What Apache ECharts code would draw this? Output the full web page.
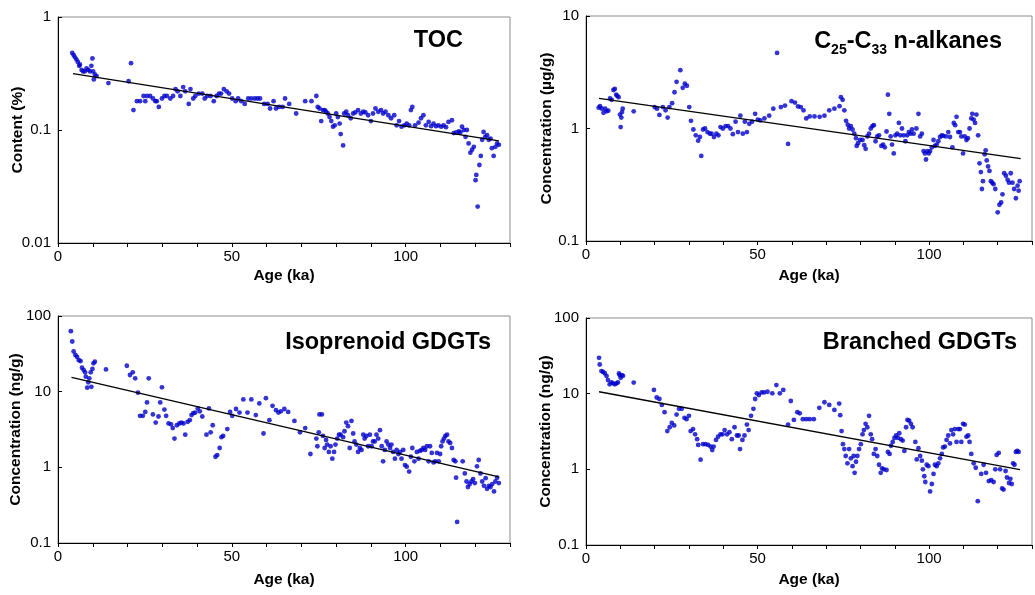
<!DOCTYPE html>
<html>
<head>
<meta charset="utf-8">
<script src="https://cdn.jsdelivr.net/npm/echarts@6/dist/echarts.min.js"></script>
<style>
  html, body { margin: 0; padding: 0; background: #fff; }
  #main { width: 1035px; height: 595px; }
</style>
</head>
<body>
<div id="main"></div>
<script>
// [age (ka), value]
var tocPoints = [[4.1,0.48],[4.5,0.46],[4.9,0.44],[5.3,0.42],[5.7,0.40],[6.1,0.37],[6.3,0.38],[6.8,0.34],[7.2,0.33],[7.7,0.33],[8.2,0.35],[8.7,0.34],[9.2,0.33],[9.6,0.37],[9.9,0.43],[10.1,0.33],[10.3,0.28],[10.6,0.31],[11.1,0.30],[14.5,0.26],[20.3,0.27],[21.0,0.39],[21.7,0.15],[22.7,0.18],[23.6,0.18],[24.6,0.20],[25.1,0.18],[25.6,0.20],[26.5,0.20],[27.3,0.19],[28.0,0.18],[28.4,0.18],[29.0,0.16],[29.9,0.19],[30.6,0.20],[31.3,0.20],[32.3,0.19],[33.1,0.20],[33.8,0.23],[34.4,0.22],[35.2,0.20],[36.0,0.24],[36.6,0.22],[37.6,0.17],[38.1,0.23],[38.9,0.19],[39.5,0.20],[40.5,0.21],[41.5,0.21],[42.2,0.19],[42.9,0.20],[43.9,0.20],[44.8,0.18],[45.6,0.20],[46.3,0.21],[46.9,0.21],[47.7,0.23],[48.5,0.22],[49.2,0.21],[50.1,0.19],[51.1,0.18],[51.8,0.19],[52.7,0.18],[53.7,0.17],[54.7,0.19],[55.6,0.19],[56.6,0.19],[57.4,0.19],[58.1,0.19],[59.3,0.17],[60.3,0.17],[61.0,0.155],[62.0,0.18],[62.7,0.155],[63.6,0.16],[64.6,0.16],[65.3,0.19],[66.5,0.17],[68.5,0.14],[71.1,0.18],[72.9,0.18],[74.3,0.20],[74.7,0.16],[75.2,0.155],[75.7,0.12],[76.2,0.15],[76.7,0.15],[77.1,0.145],[77.6,0.14],[78.1,0.13],[78.6,0.12],[79.1,0.107],[79.6,0.11],[80.0,0.14],[80.5,0.13],[81.0,0.114],[81.3,0.092],[82.0,0.073],[82.3,0.14],[82.9,0.145],[83.4,0.135],[84.2,0.127],[84.9,0.14],[85.5,0.143],[86.3,0.15],[87.1,0.14],[87.8,0.145],[88.4,0.143],[89.2,0.135],[90.0,0.12],[90.6,0.14],[91.3,0.155],[92.1,0.145],[92.9,0.15],[93.5,0.14],[94.2,0.145],[95.0,0.135],[95.8,0.127],[96.7,0.135],[97.4,0.11],[98.1,0.12],[98.8,0.107],[99.6,0.11],[100.3,0.114],[101.0,0.11],[101.5,0.15],[101.9,0.16],[102.7,0.11],[103.7,0.116],[104.4,0.127],[105.1,0.135],[105.8,0.11],[106.6,0.118],[107.3,0.108],[108.0,0.114],[108.7,0.108],[109.4,0.11],[110.2,0.107],[110.9,0.11],[111.6,0.106],[112.3,0.118],[113.3,0.122],[113.8,0.094],[114.5,0.095],[115.3,0.097],[115.7,0.095],[116.2,0.107],[116.7,0.1],[117.2,0.087],[117.6,0.1],[118.1,0.076],[118.6,0.063],[119.1,0.067],[119.6,0.071],[120.1,0.036],[120.3,0.04],[120.7,0.021],[121.2,0.049],[121.6,0.059],[122.0,0.082],[122.4,0.096],[122.9,0.087],[123.4,0.09],[123.9,0.082],[124.4,0.084],[124.8,0.069],[125.3,0.059],[125.8,0.071],[126.3,0.076],[126.8,0.074]];

var alkanePoints = [[3.7,1.53],[4.1,1.58],[4.6,1.5],[5.1,1.38],[5.6,1.5],[6.0,1.42],[6.5,1.44],[7.0,1.85],[7.5,1.8],[8.0,2.2],[8.4,2.25],[8.8,2.0],[9.1,1.95],[9.5,1.9],[9.9,1.33],[10.1,1.03],[10.3,1.25],[10.5,1.4],[10.7,1.5],[13.9,1.42],[20.0,1.55],[20.7,1.5],[21.4,1.32],[22.4,1.55],[23.2,1.45],[23.8,1.25],[24.3,1.55],[25.1,1.68],[25.8,2.1],[26.4,2.6],[27.5,3.3],[28.2,2.3],[28.8,2.5],[29.4,2.4],[30.1,1.55],[30.6,1.17],[31.3,0.98],[32.0,0.87],[32.7,0.78],[33.2,0.84],[33.6,0.57],[34.1,0.98],[34.7,1.0],[35.4,0.93],[36.1,0.9],[36.6,0.9],[37.3,0.84],[38.0,0.9],[38.6,0.87],[39.2,1.03],[39.9,1.0],[40.7,1.05],[41.4,1.05],[42.1,1.0],[42.8,0.89],[43.6,1.15],[44.3,0.93],[45.0,1.3],[45.7,0.9],[46.3,1.15],[46.9,0.93],[47.6,1.1],[48.4,1.15],[49.3,1.35],[50.1,1.2],[50.8,1.18],[52.0,1.23],[53.4,1.3],[54.6,1.5],[55.7,4.7],[56.8,1.55],[58.0,1.6],[58.9,0.73],[59.9,1.75],[60.9,1.7],[61.8,1.57],[62.6,1.55],[63.4,1.45],[64.2,1.23],[65.2,1.28],[66.6,1.28],[68.1,1.27],[69.5,1.3],[70.9,1.45],[72.4,1.5],[73.9,1.58],[74.3,1.9],[74.8,1.8],[75.3,1.45],[75.8,1.17],[76.3,1.08],[76.7,1.0],[77.2,1.05],[77.7,0.98],[78.2,0.9],[78.7,0.82],[78.9,0.7],[79.3,0.74],[79.9,0.79],[80.6,0.79],[81.1,0.71],[81.5,0.66],[82.0,0.85],[82.5,0.9],[83.0,1.0],[83.5,1.05],[83.9,1.07],[84.4,0.77],[84.9,0.85],[85.4,0.87],[86.1,0.7],[86.6,0.72],[87.1,0.68],[87.6,0.94],[88.0,2.0],[88.4,1.35],[88.8,0.85],[89.2,0.72],[89.7,0.6],[90.2,0.87],[90.7,0.9],[91.2,1.12],[91.6,0.87],[92.1,1.0],[92.6,0.87],[93.1,0.77],[93.6,0.87],[94.1,0.93],[94.6,0.9],[95.0,0.98],[95.5,0.9],[96.3,1.0],[96.9,1.35],[97.4,0.85],[97.9,0.9],[98.4,0.63],[98.8,0.6],[99.1,0.53],[99.5,0.63],[99.9,0.6],[100.3,0.63],[100.8,0.68],[101.3,0.79],[101.7,0.7],[102.2,0.72],[102.7,0.77],[103.2,0.84],[103.7,0.87],[104.1,0.86],[104.9,0.85],[105.6,0.93],[106.1,0.84],[106.8,0.68],[107.2,1.12],[107.6,1.07],[108.0,1.27],[108.5,0.93],[109.0,0.93],[109.4,0.85],[109.9,0.6],[110.4,0.85],[110.9,0.79],[111.3,0.82],[111.8,1.0],[112.3,1.23],[112.6,1.35],[113.0,1.2],[113.4,1.12],[113.8,1.33],[114.3,0.87],[114.7,0.49],[115.1,0.41],[115.4,0.29],[115.7,0.34],[116.2,0.59],[116.5,0.64],[116.8,0.52],[117.2,0.46],[117.6,0.42],[118.0,0.34],[118.4,0.33],[118.8,0.32],[119.3,0.29],[120.0,0.18],[120.5,0.21],[121.0,0.22],[121.4,0.26],[121.9,0.4],[122.4,0.38],[122.9,0.35],[123.3,0.33],[123.8,0.4],[124.3,0.33],[124.8,0.29],[125.3,0.24],[125.8,0.31],[126.1,0.28],[126.4,0.34]];

var isoPoints = [[3.7,63],[4.1,46],[4.5,34],[5.0,30.5],[5.5,28.7],[6.0,26],[6.5,25.4],[6.9,20.7],[7.4,19.3],[7.8,18],[8.0,15.8],[8.4,11.3],[8.7,13.3],[9.0,15],[9.4,18],[9.6,11.6],[9.9,20],[10.2,23.7],[10.6,24.9],[13.8,19.7],[19.8,22],[20.7,16.6],[21.5,18],[22.2,15],[23.0,9.7],[23.6,4.8],[24.4,4.8],[25.1,5.4],[25.6,7.2],[26.1,15],[27.3,5.0],[28.1,3.9],[28.9,4.7],[29.4,7.2],[29.9,11.4],[30.6,5.8],[31.1,4.8],[31.8,3.8],[32.5,3.7],[33.0,3.3],[33.5,2.4],[34.2,3.6],[34.9,3.8],[35.5,3.9],[36.1,3.8],[36.6,2.7],[37.3,4.0],[37.9,4.2],[38.4,4.9],[38.9,5.2],[39.5,5.3],[40.2,6.0],[40.8,5.5],[41.5,4.7],[42.7,2.7],[43.4,6.0],[43.9,2.9],[44.5,3.6],[45.3,1.38],[45.8,1.45],[46.5,1.8],[47.0,2.5],[47.5,2.6],[48.7,3.2],[49.5,5.4],[50.1,4.8],[51.2,5.9],[52.2,5.3],[53.3,7.9],[54.5,5.3],[55.6,7.9],[56.9,4.9],[57.9,7.0],[59.1,2.8],[59.8,8.2],[60.8,4.2],[61.7,6.5],[62.7,5.7],[63.4,5.3],[64.1,5.5],[65.1,5.9],[66.2,5.4],[68.0,4.1],[69.6,2.9],[71.1,3.3],[72.6,1.5],[74.3,2.4],[74.6,1.9],[75.0,2.9],[75.2,5.0],[75.9,5.0],[76.2,2.6],[76.7,1.8],[77.1,2.3],[77.4,2.0],[77.9,1.6],[78.4,1.9],[78.9,1.3],[79.4,1.6],[79.8,2.0],[80.3,2.4],[80.8,2.7],[81.3,2.7],[82.0,2.5],[82.4,3.0],[82.9,3.9],[83.4,3.5],[83.9,1.8],[84.4,4.1],[84.9,2.8],[85.3,2.2],[85.8,2.0],[86.3,1.6],[86.8,1.8],[87.3,1.7],[87.8,2.7],[88.2,2.4],[88.7,2.6],[89.2,1.9],[89.7,2.7],[90.2,1.9],[90.6,2.2],[91.1,2.2],[91.6,2.7],[92.1,2.4],[92.6,3.1],[93.1,1.9],[93.5,1.2],[94.0,1.7],[94.5,2.2],[95.0,2.0],[95.5,1.8],[95.9,2.0],[96.4,1.6],[96.9,1.3],[97.4,1.7],[97.9,1.5],[98.4,1.6],[98.8,1.3],[99.3,1.7],[99.8,1.07],[100.3,1.02],[101.0,0.88],[101.5,1.38],[101.9,1.8],[102.5,1.2],[103.2,1.6],[103.7,1.3],[104.1,1.65],[104.6,1.7],[105.1,1.8],[105.6,1.7],[106.1,1.9],[106.6,1.2],[107.0,1.9],[107.5,1.55],[108.0,1.16],[108.5,1.2],[109.0,1.55],[109.5,1.2],[109.9,1.5],[110.2,1.9],[110.6,2.2],[111.0,2.4],[111.4,2.6],[111.9,2.7],[112.3,2.2],[112.8,2.1],[113.3,1.8],[113.8,1.25],[114.3,1.2],[114.5,0.73],[114.8,0.19],[116.4,1.2],[117.0,0.83],[117.5,0.65],[117.9,0.55],[118.4,0.6],[118.9,0.65],[119.4,0.7],[119.9,0.62],[120.5,1.03],[121.0,1.25],[121.5,0.83],[122.0,0.65],[122.5,0.57],[123.0,0.72],[123.4,0.52],[123.9,0.57],[124.4,0.55],[124.9,0.6],[125.4,0.48],[125.8,0.65],[126.3,0.73],[126.8,0.62]];

var brPoints = [[3.8,29.8],[4.0,24.3],[4.5,19.9],[5.0,19.4],[5.5,18.5],[6.0,17.1],[6.4,15.1],[6.9,13.3],[7.4,14.1],[7.9,13.7],[8.4,13.3],[8.9,13.7],[9.3,14.1],[9.6,18.5],[9.8,17.6],[10.1,16.2],[10.4,17.6],[10.8,17.2],[13.9,14],[19.8,11.2],[20.6,8.9],[21.4,8.5],[22.1,7.1],[22.9,5.7],[23.7,3.2],[24.4,3.6],[25.0,4.1],[25.7,3.8],[26.4,5.3],[27.1,6.3],[27.9,6.3],[28.7,4.8],[29.3,4.6],[30.0,5.1],[30.5,3.2],[31.2,3.4],[31.8,2.9],[32.4,2.5],[32.7,2.1],[33.4,1.34],[34.1,2.15],[34.8,2.15],[35.6,2.1],[36.3,2.0],[36.8,1.8],[37.2,2.0],[37.9,2.45],[38.5,2.7],[39.2,2.9],[39.8,2.9],[40.4,3.3],[41.1,2.9],[41.8,3.1],[42.5,2.5],[43.3,3.6],[44.0,2.8],[44.5,2.8],[44.9,1.85],[45.6,2.45],[46.2,2.8],[46.9,3.9],[47.4,3.3],[48.1,5.1],[48.8,6.3],[49.3,8.5],[49.8,10.1],[50.4,9.6],[51.2,10.4],[51.9,10.4],[52.9,10.6],[54.3,10.1],[55.5,13],[56.5,10.1],[57.5,11.2],[58.9,3.9],[59.7,8.0],[60.6,4.5],[61.6,5.7],[62.3,5.5],[63.2,4.6],[64.2,4.6],[65.2,4.6],[66.4,4.6],[68.0,6.5],[69.5,7.7],[70.9,7.1],[72.4,6.1],[73.8,7.4],[74.1,5.2],[74.5,3.2],[74.9,2.15],[75.3,1.85],[75.7,1.5],[76.2,1.2],[76.7,1.85],[77.2,1.4],[77.7,1.1],[78.0,1.5],[78.3,0.9],[78.7,1.26],[79.1,1.5],[79.6,1.85],[80.1,2.15],[80.6,2.9],[81.0,3.3],[81.5,4.0],[82.0,3.6],[82.5,5.1],[83.0,2.9],[83.4,2.5],[83.9,1.6],[84.4,1.85],[84.9,1.5],[85.4,1.15],[85.9,0.9],[86.3,1.03],[86.8,1.0],[87.6,0.98],[88.0,1.7],[88.5,1.6],[88.9,2.05],[89.4,2.3],[89.9,2.6],[90.4,2.8],[90.9,2.6],[91.3,3.0],[91.8,2.5],[92.3,2.4],[92.8,1.75],[93.3,3.6],[93.7,4.5],[94.2,4.4],[94.7,4.0],[95.2,3.6],[96.0,2.3],[96.4,1.35],[96.9,1.9],[97.4,1.5],[97.9,1.3],[98.2,1.0],[98.6,0.81],[98.9,0.68],[99.3,1.15],[99.8,1.1],[100.3,0.51],[100.8,0.64],[101.3,0.87],[101.7,1.15],[102.2,1.1],[102.7,1.2],[103.2,1.4],[103.7,1.6],[104.1,1.95],[104.6,2.0],[105.1,2.45],[105.6,2.8],[106.1,2.2],[106.5,3.3],[107.0,2.9],[107.5,3.4],[108.0,2.3],[108.5,3.4],[109.0,3.4],[109.4,2.3],[109.9,4.0],[110.4,3.9],[110.9,2.7],[111.4,2.8],[111.8,2.3],[112.3,1.6],[113.0,1.2],[113.6,1.05],[114.2,0.38],[115.2,0.87],[115.9,1.15],[116.6,0.9],[117.4,0.7],[118.1,0.72],[118.8,0.68],[119.3,1.0],[119.7,1.55],[120.3,1.65],[120.7,1.0],[121.3,0.56],[121.7,0.54],[122.3,0.95],[122.7,0.78],[123.3,0.66],[123.7,0.75],[124.1,0.64],[124.5,1.2],[124.9,1.15],[125.3,1.7],[125.7,1.75],[126.1,1.7]];

// exponential trend lines, endpoints
var tocTrend = [[4.3,0.316],[126.8,0.080]];
var alkaneTrend = [[3.8,1.85],[126.7,0.54]];
var isoTrend = [[3.9,15.5],[126.8,0.75]];
var brTrend = [[3.8,10.6],[126.5,0.99]];

var panelTitles = ['TOC', '{m|C}{s|25}{m|-C}{s|33}{m| n-alkanes}', 'Isoprenoid GDGTs', 'Branched GDGTs'];
var yNames = ['Content (%)', 'Concentration (\u00b5g/g)', 'Concentration (ng/g)', 'Concentration (ng/g)'];
var yRanges = [[0.01, 1], [0.1, 10], [0.1, 100], [0.1, 100]];
var xLabels = [0, 50, 100];

var FONT = "'Liberation Sans', Arial, sans-serif";

var myChart = echarts.init(document.getElementById('main'));

var grids = [
  { left: 58, top: 17, width: 452, height: 226 },
  { left: 586, top: 16, width: 448, height: 225 },
  { left: 58, top: 316, width: 452, height: 227 },
  { left: 586, top: 318, width: 448, height: 227 }
];
var yGaps = [32, 31, 34, 32];
var xGaps = [25, 27, 29, 27];

var xAxes = [], yAxes = [];
grids.forEach(function(g, i) {
  g.show = true;
  g.borderColor = '#8c8c8c';
  g.borderWidth = 1;
  g.backgroundColor = '#fff';
  xAxes.push({
    type: 'value', gridIndex: i, min: 0, max: 130, interval: 10,
    name: 'Age (ka)', nameLocation: 'middle', nameGap: xGaps[i],
    nameMoveOverlap: false,
    nameTextStyle: { fontFamily: FONT, fontSize: 15.5, fontWeight: 'bold', color: '#000' },
    axisLine: { show: true, lineStyle: { color: '#000', width: 1 } },
    axisTick: { show: true, inside: false, length: 4, lineStyle: { color: '#000' } },
    axisLabel: {
      margin: 6, fontFamily: FONT, fontSize: 15, color: '#000',
      formatter: function(v) { return xLabels.indexOf(v) >= 0 ? String(v) : ''; }
    },
    splitLine: { show: false }
  });
  yAxes.push({
    type: 'log', logBase: 10, gridIndex: i, min: yRanges[i][0], max: yRanges[i][1],
    name: yNames[i], nameLocation: 'middle', nameGap: yGaps[i],
    nameMoveOverlap: false,
    nameTextStyle: { fontFamily: FONT, fontSize: 15.5, fontWeight: 'bold', color: '#000' },
    axisLine: { show: true, lineStyle: { color: '#000', width: 1 } },
    axisTick: { show: true, inside: true, length: 4, lineStyle: { color: '#000' } },
    axisLabel: {
      margin: 7, fontFamily: FONT, fontSize: 15, color: '#000',
      formatter: function(v) { return String(+v.toPrecision(3)); }
    },
    splitLine: { show: false },
    minorTick: { show: false }
  });
});

var pointSets = [tocPoints, alkanePoints, isoPoints, brPoints];
var trendSets = [tocTrend, alkaneTrend, isoTrend, brTrend];
var series = [];
pointSets.forEach(function(pts, i) {
  series.push({
    type: 'scatter', xAxisIndex: i, yAxisIndex: i,
    symbolSize: 4.8, itemStyle: { color: '#0000cc' },
    data: pts
  });
  series.push({
    type: 'line', xAxisIndex: i, yAxisIndex: i,
    showSymbol: false, symbol: 'none', silent: true,
    lineStyle: { color: '#000', width: 1.3 },
    data: trendSets[i]
  });
});

// title positions (right edge, vertical centre)
var titlePos = [[463, 41], [1002, 42], [491, 343], [1017, 343]];
var graphics = titlePos.map(function(p, i) {
  return {
    type: 'text', x: p[0], y: p[1], z: 100,
    style: {
      text: panelTitles[i],
      align: 'right', verticalAlign: 'middle',
      fontFamily: FONT, fontSize: 23.5, fontWeight: 'bold', fill: '#000',
      rich: {
        m: { fontFamily: FONT, fontSize: 23.5, fontWeight: 'bold', lineHeight: 30, verticalAlign: 'middle', fill: '#000' },
        s: { fontFamily: FONT, fontSize: 14, fontWeight: 'bold', lineHeight: 14, verticalAlign: 'bottom', fill: '#000' }
      }
    }
  };
});

var option = {
  backgroundColor: '#fff',
  animation: false,
  grid: grids,
  xAxis: xAxes,
  yAxis: yAxes,
  series: series,
  graphic: graphics
};
myChart.setOption(option);
</script>
</body>
</html>
